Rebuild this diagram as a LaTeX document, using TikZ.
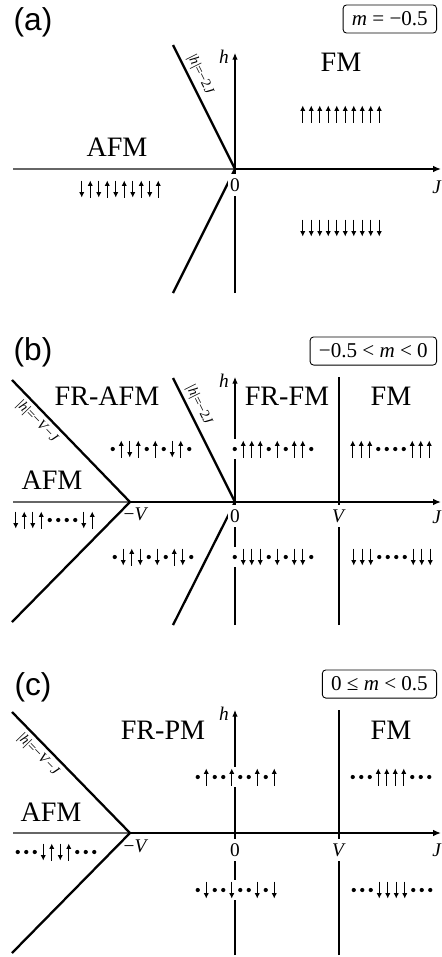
\documentclass[tikz,border=0pt]{standalone}
\usepackage{fontspec}
\setmainfont{Liberation Serif}
\setsansfont{Liberation Sans}
\usetikzlibrary{arrows.meta}

\tikzstyle{bound} = [line width = 1.3pt]
\tikzstyle{leftaxis} = [line width = 0.6pt, black!60]
\tikzstyle{jaxis} = [line width = 1.3pt, -{Latex[length=4.5pt,width=3.8pt]}]
\tikzstyle{haxis} = [line width = 0.6pt, -{Latex[length=3.8pt,width=3.2pt]}]
\tikzstyle{phase} = [font = \fontsize{16}{18}\selectfont, inner sep = 0pt]
\tikzstyle{panel} = [font = \sffamily\fontsize{18}{20}\selectfont, inner sep = 0pt]
\tikzstyle{rangebox} = [draw, anchor = east, rounded corners = 2pt, line width = 0.5pt, font = \fontsize{12}{14}\selectfont, inner xsep = 5pt, minimum height = 16pt]
\tikzstyle{ticklabel} = [fill = white, font = \fontsize{11}{13}\selectfont, inner sep = 1pt, minimum height = 13pt]
\tikzstyle{axlabel} = [font = \fontsize{11}{13}\selectfont, inner sep = 0pt]
\tikzstyle{linelabel} = [font = \fontsize{8}{9}\selectfont, sloped, inner sep = 2pt]
\tikzstyle{spinbg} = [fill = white, minimum width = 1.74cm, minimum height = 0.4cm, inner sep = 0pt]
\tikzstyle{spinarrow} = [line width = 0.6pt, -{Latex[length=3pt,width=3pt]}]

% one row of ten sites: u = up, d = down, o = empty
\newcommand{\spinrow}[3]{%
  \node [spinbg] at (#2) (#1) {};
  \begin{scope}[shift={(#2)}]
    \foreach \s [count=\i] in {#3} {
      \pgfmathsetmacro{\xs}{(\i-5.5)*8.5}
      \if u\s \draw [spinarrow] (\xs,8.5) -- (\xs,-8.5); \fi
      \if d\s \draw [spinarrow] (\xs,-8.5) -- (\xs,8.5); \fi
      \if o\s \fill (\xs,0) circle (1.2pt); \fi
    }
  \end{scope}
}

\begin{document}
\begin{tikzpicture}[x=0.02cm, y=-0.02cm]
	\useasboundingbox (0,0) rectangle (442,957);

	% (a)
	\node [panel] at (33,22) (la) {(a)};
	\node [rangebox] at (437,19) (ra) {\textit{m} = −0.5};
	\coordinate (oa) at (235,169);
	\coordinate (lfa) at (13,169);
	\coordinate (ja) at (441,169);
	\coordinate (ha) at (235,53);
	\coordinate (hba) at (235,293);
	\coordinate (ua) at (173,45);
	\coordinate (da) at (173,293);

	\draw [leftaxis] (lfa) -- (oa);
	\draw [haxis] (hba) -- (ha);
	\draw [jaxis] (oa) -- (ja);
	\draw [bound] (ua) -- node [linelabel, above, pos = 0.28] {|\textit{h}|=−2\textit{J}} (oa) -- (da);

	\node [ticklabel] at (235,185) (za) {0};
	\node [axlabel] at (437,187) (jla) {\textit{J}};
	\node [axlabel] at (224,57) (hla) {\textit{h}};

	\node [phase] at (341,62) (fma) {FM};
	\node [phase] at (117,147) (afma) {AFM};
	\spinrow{sa1}{341,114}{u,u,u,u,u,u,u,u,u,u}
	\spinrow{sa2}{120,189}{d,u,d,u,d,u,d,u,d,u}
	\spinrow{sa3}{341,228}{d,d,d,d,d,d,d,d,d,d}

	% (b)
	\node [panel] at (33,352) (lb) {(b)};
	\node [rangebox] at (437,351) (rb) {−0.5 < \textit{m} < 0};
	\coordinate (ob) at (235,502);
	\coordinate (mvb) at (130,502);
	\coordinate (vb) at (339,502);
	\coordinate (lfb) at (13,502);
	\coordinate (jb) at (441,502);
	\coordinate (hb) at (235,377);
	\coordinate (hbb) at (235,625);
	\coordinate (vtb) at (339,377);
	\coordinate (vbb) at (339,625);
	\coordinate (ub) at (173,378);
	\coordinate (db) at (173,625);
	\coordinate (ulb) at (12,380);
	\coordinate (dlb) at (12,622);

	\draw [leftaxis] (lfb) -- (mvb);
	\draw [haxis] (hbb) -- (hb);
	\draw [jaxis] (mvb) -- (jb);
	\draw [bound] (vbb) -- (vtb);
	\draw [bound] (ub) -- node [linelabel, above, pos = 0.26] {|\textit{h}|=−2\textit{J}} (ob) -- (db);
	\draw [bound] (ulb) -- node [linelabel, below, pos = 0.28] {|\textit{h}|=−\textit{V}−\textit{J}} (mvb) -- (dlb);

	\node [axlabel] at (136,514) (mvlb) {−\textit{V}};
	\node [ticklabel] at (235,516) (zb) {0};
	\node [ticklabel] at (339,516) (vlb) {\textit{V}};
	\node [axlabel] at (437,517) (jlb) {\textit{J}};
	\node [axlabel] at (224,381) (hlb) {\textit{h}};

	\node [phase] at (107,396) (frafmb) {FR-AFM};
	\node [phase] at (287,396) (frfmb) {FR-FM};
	\node [phase] at (391,396) (fmb) {FM};
	\node [phase] at (52,480) (afmb) {AFM};
	\spinrow{sb1}{151,449}{o,u,d,u,o,u,o,d,u,o}
	\spinrow{sb2}{273,449}{o,u,u,u,o,u,o,u,u,o}
	\spinrow{sb3}{391,449}{u,u,u,o,o,o,o,u,u,u}
	\spinrow{sb4}{54,520}{d,u,d,u,o,o,o,o,d,u}
	\spinrow{sb5}{153,557}{o,d,u,d,o,d,o,u,d,o}
	\spinrow{sb6}{273,557}{o,d,d,d,o,d,o,d,d,o}
	\spinrow{sb7}{392,557}{d,d,d,o,o,o,o,d,d,d}

	% (c)
	\node [panel] at (33,687) (lc) {(c)};
	\node [rangebox] at (437,684) (rc) {0 ≤ \textit{m} < 0.5};
	\coordinate (oc) at (235,833);
	\coordinate (mvc) at (130,833);
	\coordinate (vc) at (339,833);
	\coordinate (lfc) at (13,833);
	\coordinate (jc) at (441,833);
	\coordinate (hc) at (235,710);
	\coordinate (hbc) at (235,955);
	\coordinate (vtc) at (339,710);
	\coordinate (vbc) at (339,955);
	\coordinate (ulc) at (12,712);
	\coordinate (dlc) at (12,953);

	\draw [leftaxis] (lfc) -- (mvc);
	\draw [haxis] (hbc) -- (hc);
	\draw [jaxis] (mvc) -- (jc);
	\draw [bound] (vbc) -- (vtc);
	\draw [bound] (ulc) -- node [linelabel, below, pos = 0.29] {|\textit{h}|=−\textit{V}−\textit{J}} (mvc) -- (dlc);

	\node [axlabel] at (136,846) (mvlc) {−\textit{V}};
	\node [ticklabel] at (235,850) (zc) {0};
	\node [ticklabel] at (339,850) (vlc) {\textit{V}};
	\node [axlabel] at (437,850) (jlc) {\textit{J}};
	\node [axlabel] at (224,714) (hlc) {\textit{h}};

	\node [phase] at (163,730) (frpmc) {FR-PM};
	\node [phase] at (391,730) (fmc) {FM};
	\node [phase] at (51,812) (afmc) {AFM};
	\spinrow{sc1}{236,777}{o,u,o,o,u,o,o,u,o,u}
	\spinrow{sc2}{391,777}{o,o,o,u,u,u,u,o,o,o}
	\spinrow{sc3}{56,852}{o,o,o,d,u,d,u,o,o,o}
	\spinrow{sc4}{236,890}{o,d,o,o,d,o,o,d,o,d}
	\spinrow{sc5}{392,890}{o,o,o,d,d,d,d,o,o,o}
\end{tikzpicture}
\end{document}
